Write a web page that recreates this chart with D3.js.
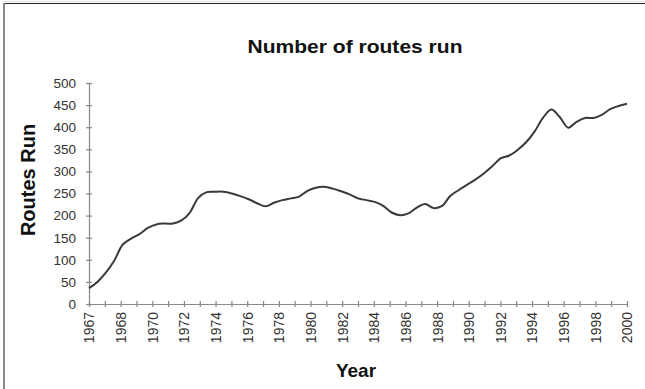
<!DOCTYPE html>
<html>
<head>
<meta charset="utf-8">
<script src="https://cdn.jsdelivr.net/npm/d3@7"></script>
<style>
  body { margin: 0; background: #fff; }
  svg { display: block; font-family: Arial, "Liberation Sans", sans-serif; }
</style>
</head>
<body>
<svg id="chart" width="645" height="389"></svg>
<script>
// x tick labels, one per two tick marks (as printed on the original)
const xLabels = ['1967','1968','1970','1972','1974','1976','1978','1980','1982',
                 '1984','1986','1988','1990','1992','1994','1996','1998','2000'];
// routes run, read at even steps along the x axis from first to last label
const routes = [36, 50, 71, 98, 134, 148, 158, 172, 180, 182, 182, 189, 207, 240, 253, 254,
                254, 250, 244, 237, 228, 221, 229, 235, 239, 243, 256, 263, 265, 261, 255, 248,
                239, 235, 231, 222, 207, 201, 205, 218, 226, 217, 222, 245, 258, 270, 282, 296,
                312, 330, 336, 349, 366, 390, 421, 440, 423, 399, 412, 421, 421, 428, 441, 448, 453];
const yTicks = [0, 50, 100, 150, 200, 250, 300, 350, 400, 450, 500];

const svg = d3.select('#chart');
const W = 645, H = 389;
const font = 'Arial, "Liberation Sans", sans-serif';

// frame
svg.append('line').attr('x1', 3).attr('x2', W).attr('y1', 1.5).attr('y2', 1.5).attr('stroke', '#ddd');
svg.append('line').attr('x1', 3).attr('x2', W).attr('y1', 3.5).attr('y2', 3.5).attr('stroke', '#222');
svg.append('line').attr('x1', 4).attr('x2', 4).attr('y1', 3).attr('y2', H).attr('stroke', '#888').attr('stroke-width', 2);

const x0 = 89, x1 = 627;
const nTicks = (xLabels.length - 1) * 2;
const xAxisScale = d3.scaleLinear().domain([0, nTicks]).range([x0, x1]);
const xData = d3.scaleLinear().domain([0, routes.length - 1]).range([x0, x1]);
const y = d3.scaleLinear().domain([0, 500]).range([304, 83]);

// y axis
const gy = svg.append('g').attr('transform', `translate(${x0},0)`)
    .call(d3.axisLeft(y).tickValues(yTicks).tickSize(3).tickPadding(10));
gy.select('.domain').attr('stroke', '#888').attr('stroke-width', 1.2);
gy.selectAll('.tick line').attr('x1', -3).attr('x2', 3).attr('stroke', '#888').attr('stroke-width', 1.2);
gy.selectAll('.tick text').attr('font-size', 13.5).attr('fill', '#333').attr('font-family', font);

// x axis: a tick every half label, a label every other tick
const gx = svg.append('g').attr('transform', `translate(0,${y(0)})`)
    .call(d3.axisBottom(xAxisScale).tickValues(d3.range(0, nTicks + 1)).tickSize(3)
        .tickFormat(d => d % 2 === 0 ? xLabels[d / 2] : ''));
gx.select('.domain').attr('stroke', '#888').attr('stroke-width', 1.2);
gx.selectAll('.tick line').attr('y1', -3).attr('y2', 3).attr('stroke', '#888').attr('stroke-width', 1.2);
gx.selectAll('.tick text').attr('font-size', 14).attr('fill', '#333').attr('font-family', font)
    .attr('transform', 'rotate(-90)')
    .attr('text-anchor', 'end')
    .attr('x', -8).attr('y', 0).attr('dy', '0.35em');

// line
const line = d3.line()
    .x((d, i) => xData(i))
    .y(d => y(d))
    .curve(d3.curveCatmullRom.alpha(0.5));
svg.append('path').datum(routes)
    .attr('d', line)
    .attr('fill', 'none')
    .attr('stroke', '#3a3a3a')
    .attr('stroke-width', 2);

// titles
svg.append('text').attr('x', 355).attr('y', 53).attr('text-anchor', 'middle')
    .attr('font-size', 18).attr('font-weight', 'bold').attr('fill', '#111')
    .attr('textLength', 215).attr('lengthAdjust', 'spacingAndGlyphs')
    .text('Number of routes run');
svg.append('text').attr('x', 356).attr('y', 377).attr('text-anchor', 'middle')
    .attr('font-size', 19).attr('font-weight', 'bold').attr('fill', '#111')
    .text('Year');
svg.append('text').attr('transform', 'translate(35,180) rotate(-90)').attr('text-anchor', 'middle')
    .attr('font-size', 20).attr('font-weight', 'bold').attr('fill', '#111')
    .text('Routes Run');
</script>
</body>
</html>
